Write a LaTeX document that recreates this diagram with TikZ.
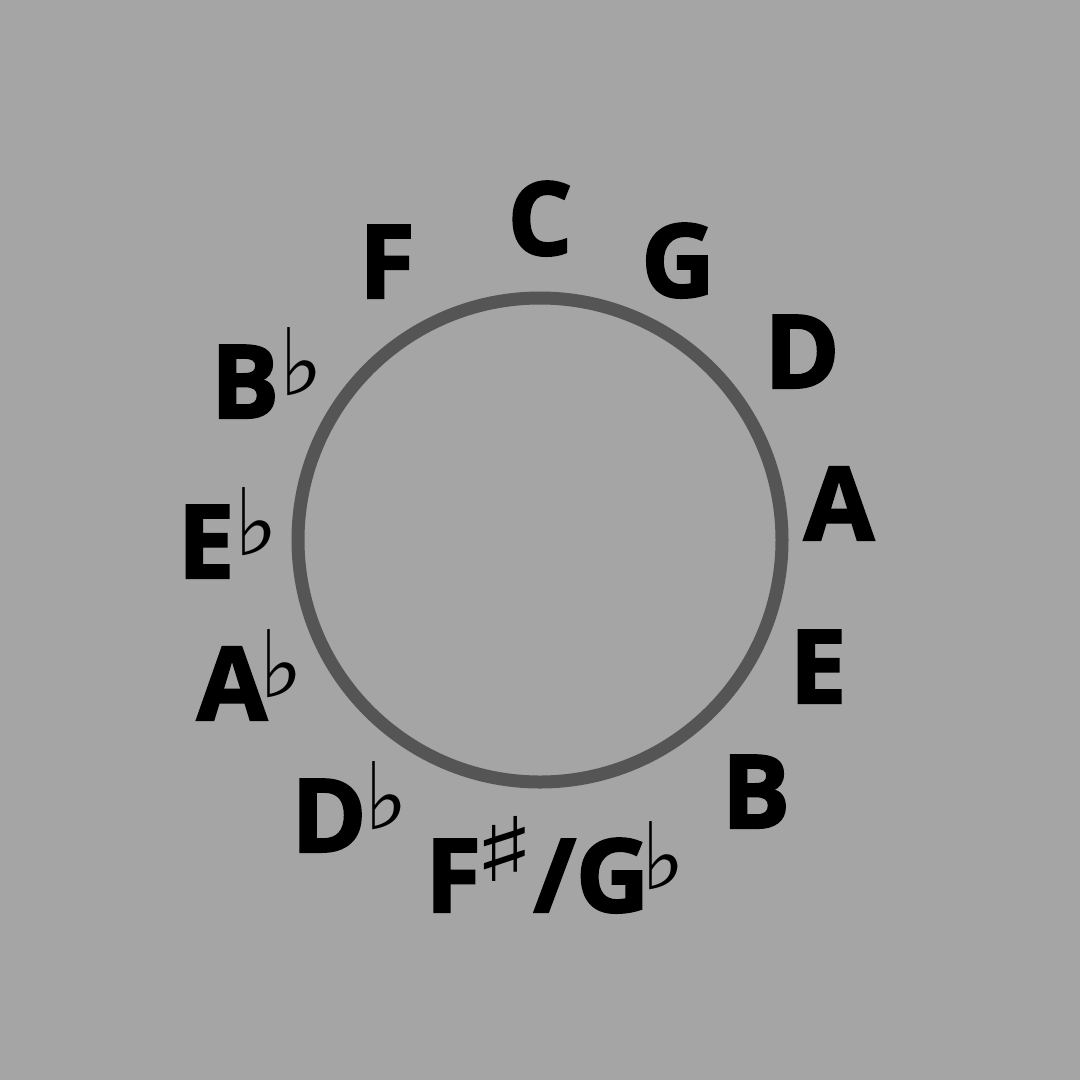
\documentclass[tikz,border=0pt]{standalone}
\usepackage{fontspec}
\newfontfamily\notefont[BoldFeatures={FakeBold=2}]{Open Sans}
\newfontfamily\accfont{DejaVu Sans}
\definecolor{bg}{HTML}{A5A5A5}
\definecolor{ring}{HTML}{555555}
\newcommand{\fl}[1][0pt]{\rlap{\kern#1\raisebox{23pt}{\fontsize{93}{93}\accfont ♭}}}
\newcommand{\shp}{\raisebox{31pt}{\scalebox{1.45}[1]{\fontsize{89}{89}\accfont ♯}}}
\tikzset{
  note/.style={font=\fontsize{102}{102}\notefont\bfseries, text=black, inner sep=0pt, anchor=base}
}
\begin{document}
\begin{tikzpicture}[x=1pt,y=-1pt]
\fill[bg] (0,0) rectangle (1080,1080);
\useasboundingbox (0,0) rectangle (1080,1080);
\node[circle, draw=ring, line width=13pt, minimum size=484pt, inner sep=0pt] (ring) at (540,540) {};
\node[note] (C) at (540,255) {C};
\node[note] (G) at (678,297) {G};
\node[note] (D) at (802,388) {D};
\node[note] (A) at (839,540) {A};
\node[note] (E) at (818,703) {E};
\node[note] (B) at (756,828) {B};
\node[note] (F) at (387,298) {F};
\node[note] (Bb) at (245,418) {B\fl[0pt]};
\node[note] (Eb) at (206,578) {E\fl[0pt]};
\node[note] (Ab) at (232,720) {A\fl[-8pt]};
\node[note] (Db) at (329,852) {D\fl[-2pt]};
\node[note, anchor=base west] (FsGb) at (425,912) {F\kern-8pt\shp\kern-2pt/G\fl[-8pt]};
\end{tikzpicture}
\end{document}
